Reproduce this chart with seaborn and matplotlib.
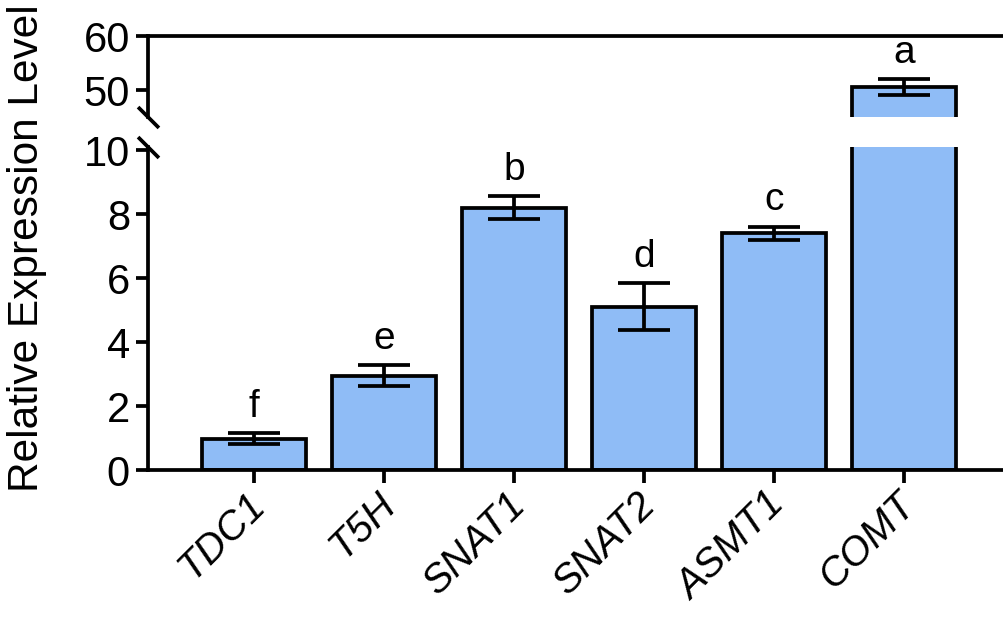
import numpy as np
import pandas as pd
import seaborn as sns
import matplotlib.pyplot as plt
from matplotlib.transforms import ScaledTranslation

genes = ['TDC1', 'T5H', 'SNAT1', 'SNAT2', 'ASMT1', 'COMT']
means = [0.98, 2.95, 8.2, 5.1, 7.4, 50.5]
sems = [0.18, 0.33, 0.36, 0.73, 0.2, 1.5]
letters = ['f', 'e', 'b', 'd', 'c', 'a']

BAR_COLOR = '#8fbcf6'
LW = 2.7

sns.set_theme(style='ticks')
plt.rcParams['font.family'] = ['Liberation Sans', 'DejaVu Sans']
plt.rcParams['text.color'] = 'black'
plt.rcParams['axes.labelcolor'] = 'black'

df = pd.DataFrame({'gene': genes, 'expr': means, 'sem': sems})

fig = plt.figure(figsize=(10.04, 6.19), dpi=100)
W, H = 1004, 619
left = 148 / W
width = 862 / W
ax_top = fig.add_axes([left, 1 - 117 / H, width, 81 / H])
ax_bot = fig.add_axes([left, 1 - 470 / H, width, (470 - 146.8) / H])

for ax in (ax_top, ax_bot):
    sns.barplot(data=df, x='gene', y='expr', color=BAR_COLOR, saturation=1,
                edgecolor='black', linewidth=LW, width=0.8, errorbar=None, ax=ax)
    ax.errorbar(x=np.arange(len(genes)), y=df['expr'], yerr=df['sem'], fmt='none',
                ecolor='black', elinewidth=LW, capsize=19, capthick=LW, zorder=5)
    ax.set_xlim(-0.815, 5.815)
    ax.set_xlabel('')
    ax.set_ylabel('')
    for s in ax.spines.values():
        s.set_linewidth(LW)
        s.set_color('black')
    ax.tick_params(axis='both', width=LW, length=9, labelsize=30, colors='black', pad=4)

ax_top.set_ylim(45, 60)
ax_top.set_yticks([50, 60])
ax_bot.set_ylim(0, 10.1)
ax_bot.set_yticks([0, 2, 4, 6, 8, 10])

ax_top.spines['bottom'].set_visible(False)
ax_top.spines['right'].set_visible(False)
ax_top.tick_params(axis='x', bottom=False, labelbottom=False)
ax_bot.spines['top'].set_visible(False)
ax_bot.spines['right'].set_visible(False)

ax_bot.set_xticks(range(len(genes)))
ax_bot.set_xticklabels(genes, rotation=45, ha='right', va='top',
                       rotation_mode='anchor', fontstyle='italic', fontsize=29)
ax_bot.tick_params(axis='x', pad=2)
# nudge rotated labels a little to the left, like the original
shift = ScaledTranslation(-0.08, 0, fig.dpi_scale_trans)
for lab in ax_bot.get_xticklabels():
    lab.set_transform(lab.get_transform() + shift)

# significance letters
for i, (m, e, l) in enumerate(zip(means, sems, letters)):
    ax = ax_top if m > 10 else ax_bot
    ax.annotate(l, (i, m + e), xytext=(0, 6), textcoords='offset points',
                ha='center', va='bottom', fontsize=28, color='black')

# axis break marks
mk = dict(marker=[(-1, 1), (1, -1)], markersize=15, linestyle='none',
          color='black', mec='black', mew=LW, clip_on=False)
ax_top.plot([0], [0], transform=ax_top.transAxes, **mk)
ax_bot.plot([0], [1], transform=ax_bot.transAxes, **mk)

fig.text(27 / W, 1 - 248 / H, 'Relative Expression Level', rotation=90,
         ha='center', va='center', fontsize=30.5, color='black')

plt.savefig('out.png', dpi=100)
